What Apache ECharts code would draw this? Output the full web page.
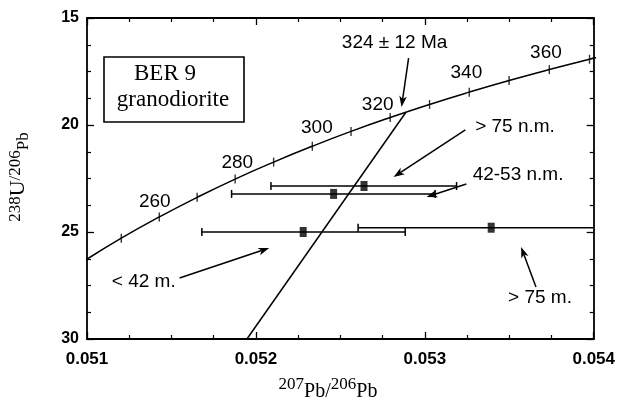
<!DOCTYPE html>
<html>
<head>
<meta charset="utf-8">
<script src="https://cdn.jsdelivr.net/npm/echarts@6/dist/echarts.min.js"></script>
<style>
html,body{margin:0;padding:0;background:#fff;}
#chart{width:618px;height:404px;}
</style>
</head>
<body>
<div id="chart"></div>
<script>
// Concordia curve (ages in Ma)
var concAges = [240, 250, 260, 270, 280, 290, 300, 310, 320, 330, 340, 350, 360, 370, 380];
var concX = [0.050981, 0.051203, 0.051428, 0.051652, 0.051877, 0.052105, 0.052334, 0.052563, 0.052795, 0.053028, 0.053263, 0.053499, 0.053737, 0.053975, 0.054215];
var concY = [26.363, 25.289, 24.297, 23.379, 22.526, 21.733, 20.992, 20.299, 19.649, 19.039, 18.465, 17.923, 17.411, 16.928, 16.469];
var tickAges = [250, 260, 270, 280, 290, 300, 310, 320, 330, 340, 350, 360, 370];

// Discordia line
var discX = [0.052888, 0.051947];
var discY = [19.405, 30];

// Analyses with 2-sigma x-error bars
var ptX = [0.052640, 0.052460, 0.052280, 0.053393];
var ptY = [22.85, 23.22, 25.00, 24.80];
var errLo = [0.052089, 0.051856, 0.051680, 0.052605];
var errHi = [0.053188, 0.053061, 0.052884, 0.054181];

// Annotation texts and positions (data coordinates)
var noteText = ['324 \u00b1 12 Ma', '260', '280', '300', '320', '340', '360', '> 75 n.m.', '42-53 n.m.', '< 42 m.', '> 75 m.'];
var noteX = [0.052821, 0.051401, 0.051890, 0.052361, 0.052721, 0.053246, 0.053717, 0.053534, 0.053552, 0.051336, 0.053682];
var noteY = [16.17, 23.60, 21.78, 20.14, 19.07, 17.57, 16.64, 20.09, 22.34, 27.34, 28.08];

// Arrows: from -> to
var arrX1 = [0.052904, 0.053240, 0.053246, 0.051548, 0.053658];
var arrY1 = [16.87, 20.23, 22.76, 27.15, 27.57];
var arrX2 = [0.052862, 0.052815, 0.053010, 0.052079, 0.053570];
var arrY2 = [19.16, 22.43, 23.36, 25.75, 25.70];

var xTicks = {min: 0.051, max: 0.054, interval: 0.001};
var yTicks = {min: 15, max: 30, interval: 5};

var SANS = '"Liberation Sans", Arial, Helvetica, sans-serif';
var SERIF = '"Liberation Serif", "Times New Roman", serif';

function zip(a, b) { return a.map(function (v, i) { return [v, b[i]]; }); }

var chart = echarts.init(document.getElementById('chart'), null, {renderer: 'canvas'});

function xAxisCfg(pos, showLabel) {
  return {
    type: 'value', position: pos, min: xTicks.min, max: xTicks.max, interval: xTicks.interval,
    axisLine: {show: true, onZero: false, lineStyle: {color: '#000', width: 1.8}},
    axisTick: {show: true, inside: true, length: 7, lineStyle: {color: '#000', width: 1.3}},
    minorTick: {show: true, splitNumber: 4, length: 4, lineStyle: {color: '#000', width: 1.2}},
    splitLine: {show: false}, minorSplitLine: {show: false},
    axisLabel: {show: showLabel, color: '#000', fontSize: 17, fontWeight: 'bold', fontFamily: SANS, margin: 12,
      formatter: function (v) { return v.toFixed(3); }}
  };
}
function yAxisCfg(pos, showLabel) {
  return {
    type: 'value', position: pos, inverse: true, min: yTicks.min, max: yTicks.max, interval: yTicks.interval,
    axisLine: {show: true, onZero: false, lineStyle: {color: '#000', width: 1.8}},
    axisTick: {show: true, inside: true, length: 7, lineStyle: {color: '#000', width: 1.3}},
    minorTick: {show: true, splitNumber: 4, length: 4, lineStyle: {color: '#000', width: 1.2}},
    splitLine: {show: false}, minorSplitLine: {show: false},
    axisLabel: {show: showLabel, color: '#000', fontSize: 16, fontWeight: 'bold', fontFamily: SANS, margin: 8,
      formatter: function (v) { return String(Math.round(v)); }}
  };
}

var option = {
  backgroundColor: '#fff',
  animation: false,
  grid: {left: 87, right: 22, top: 18, bottom: 65, containLabel: false},
  xAxis: [xAxisCfg('bottom', true), xAxisCfg('top', false)],
  yAxis: [yAxisCfg('left', true), yAxisCfg('right', false)],
  graphic: [
    {type: 'rect', shape: {x: 104, y: 57, width: 140, height: 65}, style: {fill: '#fff', stroke: '#000', lineWidth: 1.6}, z: 100},
    {type: 'text', x: 165, y: 74, z: 101, style: {text: 'BER 9', font: '23px ' + SERIF, fill: '#000', align: 'center', verticalAlign: 'middle'}},
    {type: 'text', x: 173, y: 100, z: 101, style: {text: 'granodiorite', font: '23px ' + SERIF, fill: '#000', align: 'center', verticalAlign: 'middle'}},
    {type: 'text', x: 328, y: 392, z: 101, style: {
      text: '{s|207}{p|Pb/}{s|206}{p|Pb}', align: 'center', verticalAlign: 'middle', fill: '#000',
      rich: {
        s: {fontSize: 17, fontFamily: SERIF, lineHeight: 14, verticalAlign: 'top', fill: '#000'},
        p: {fontSize: 20, fontFamily: SERIF, lineHeight: 31, verticalAlign: 'middle', fill: '#000'}
      }}},
    {type: 'text', x: 24, y: 177, rotation: Math.PI / 2, z: 101, style: {
      text: '{s|238}{u|U}{s|/206}{p|Pb}', align: 'center', verticalAlign: 'middle', fill: '#000',
      rich: {
        s: {fontSize: 17, fontFamily: SERIF, lineHeight: 15, verticalAlign: 'top', fill: '#000'},
        u: {fontSize: 22, fontFamily: SERIF, lineHeight: 20, verticalAlign: 'top', fill: '#000'},
        p: {fontSize: 17, fontFamily: SERIF, lineHeight: 34, verticalAlign: 'middle', fill: '#000'}
      }}}
  ],
  series: [
    {
      type: 'line', name: 'concordia', data: zip(concX, concY), showSymbol: false, smooth: true,
      lineStyle: {color: '#000', width: 1.5}, clip: true, z: 3
    },
    {
      type: 'scatter', name: 'ageTicks', symbol: 'rect', symbolSize: [1.4, 9],
      data: tickAges.map(function (a) { var i = concAges.indexOf(a); return [concX[i], concY[i]]; }),
      itemStyle: {color: '#000'}, z: 4
    },
    {
      type: 'line', name: 'discordia', data: zip(discX, discY), showSymbol: false,
      lineStyle: {color: '#000', width: 1.5}, clip: true, z: 3
    },
    {
      type: 'custom', name: 'errorbars', z: 5,
      data: errLo.map(function (lo, i) { return [lo, errHi[i], ptY[i]]; }),
      encode: {x: [0, 1], y: 2},
      renderItem: function (params, api) {
        var lo = api.coord([api.value(0), api.value(2)]);
        var hi = api.coord([api.value(1), api.value(2)]);
        var cs = params.coordSys;
        var xmax = cs.x + cs.width;
        var x2 = Math.min(hi[0], xmax);
        var st = {stroke: '#000', lineWidth: 1.5};
        var ch = [
          {type: 'line', shape: {x1: lo[0], y1: lo[1], x2: x2, y2: lo[1]}, style: st},
          {type: 'line', shape: {x1: lo[0], y1: lo[1] - 4, x2: lo[0], y2: lo[1] + 4}, style: st}
        ];
        if (hi[0] <= xmax) {
          ch.push({type: 'line', shape: {x1: hi[0], y1: hi[1] - 4, x2: hi[0], y2: hi[1] + 4}, style: st});
        }
        return {type: 'group', children: ch};
      }
    },
    {
      type: 'scatter', name: 'analyses', symbol: 'rect', symbolSize: [7, 10],
      data: zip(ptX, ptY), itemStyle: {color: '#000'}, z: 6
    },
    {
      type: 'custom', name: 'arrows', z: 7,
      data: arrX1.map(function (x, i) { return [x, arrY1[i], arrX2[i], arrY2[i]]; }),
      encode: {x: [0, 2], y: [1, 3]},
      renderItem: function (params, api) {
        var p1 = api.coord([api.value(0), api.value(1)]);
        var p2 = api.coord([api.value(2), api.value(3)]);
        var dx = p2[0] - p1[0], dy = p2[1] - p1[1];
        var L = Math.sqrt(dx * dx + dy * dy);
        var ux = dx / L, uy = dy / L;
        var hl = 11, hw = 3.8;
        var bx = p2[0] - ux * hl, by = p2[1] - uy * hl;
        return {type: 'group', children: [
          {type: 'line', shape: {x1: p1[0], y1: p1[1], x2: bx + ux * 3, y2: by + uy * 3}, style: {stroke: '#000', lineWidth: 1.5}},
          {type: 'polygon', shape: {points: [[p2[0], p2[1]], [bx - uy * hw, by + ux * hw], [bx + ux * 3, by + uy * 3], [bx + uy * hw, by - ux * hw]]}, style: {fill: '#000'}}
        ]};
      }
    },
    {
      type: 'custom', name: 'notes', z: 8,
      data: noteX.map(function (x, i) { return [x, noteY[i], i]; }),
      encode: {x: 0, y: 1},
      renderItem: function (params, api) {
        var p = api.coord([api.value(0), api.value(1)]);
        return {type: 'text', x: p[0], y: p[1], style: {
          text: noteText[api.value(2)], font: '19px ' + SANS, fill: '#000', align: 'center', verticalAlign: 'middle'}};
      }
    }
  ]
};
chart.setOption(option);
</script>
</body>
</html>
